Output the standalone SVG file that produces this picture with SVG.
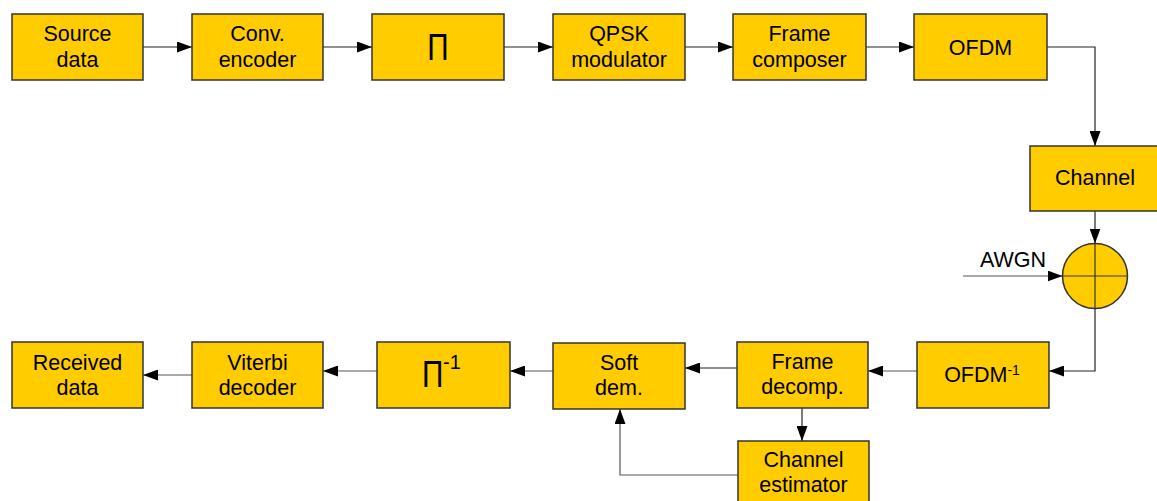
<svg xmlns="http://www.w3.org/2000/svg" width="1157" height="501" viewBox="0 0 1157 501">
<style>
.box{fill:#FFCC00;stroke:#333;stroke-width:1.5}
.t{font-family:"Liberation Sans",Arial,sans-serif;font-size:21.5px;fill:#000;text-anchor:middle}
.pi{font-family:"Liberation Sans",Arial,sans-serif;font-size:37px;fill:#000}
.c{fill:none;stroke:#222;stroke-width:1.2}
.g{fill:none;stroke:#555;stroke-width:1.2}
</style>
<defs>
<marker id="ah" markerUnits="userSpaceOnUse" markerWidth="15" markerHeight="11" refX="15" refY="5.5" orient="auto">
<path d="M0,0 L15,5.5 L0,11 z" fill="#000"/>
</marker>
</defs>
<g id="connectors">
<path class="c" d="M143,47 H192" marker-end="url(#ah)"/>
<path class="c" d="M323,47 H372" marker-end="url(#ah)"/>
<path class="c" d="M504,47 H553" marker-end="url(#ah)"/>
<path class="c" d="M685,47 H733" marker-end="url(#ah)"/>
<path class="c" d="M866,47 H914" marker-end="url(#ah)"/>
<path class="c" d="M1047,47 H1095 V146" marker-end="url(#ah)"/>
<path class="c" d="M1095,211 V243.5" marker-end="url(#ah)"/>
<path class="g" d="M963,276 H1062.5" marker-end="url(#ah)"/>
<path class="c" d="M1095,308.5 V371 H1049" marker-end="url(#ah)"/>
<path class="g" d="M917,371 H868" marker-end="url(#ah)"/>
<path class="c" d="M737,368 H685" marker-end="url(#ah)"/>
<path class="g" d="M553,371 H510" marker-end="url(#ah)"/>
<path class="g" d="M377,371 H323" marker-end="url(#ah)"/>
<path class="g" d="M192,375 H143" marker-end="url(#ah)"/>
<path class="c" d="M802,408 V441" marker-end="url(#ah)"/>
<path class="g" d="M738,475 H620 V409" marker-end="url(#ah)"/>
</g>
<g id="source">
<rect class="box" x="12" y="14" width="131" height="66"/>
<text class="t" x="77.5" y="41">Source</text>
<text class="t" x="77.5" y="66.5">data</text>
</g>
<g id="encoder">
<rect class="box" x="192" y="14" width="131" height="66"/>
<text class="t" x="257.5" y="41">Conv.</text>
<text class="t" x="257.5" y="66.5">encoder</text>
</g>
<g id="interleaver">
<rect class="box" x="372" y="14" width="132" height="66"/>
<text class="pi" transform="translate(438,60) scale(0.8,1)" text-anchor="middle">Π</text>
</g>
<g id="qpsk">
<rect class="box" x="553" y="14" width="132" height="66"/>
<text class="t" x="619" y="41">QPSK</text>
<text class="t" x="619" y="66.5">modulator</text>
</g>
<g id="framecomposer">
<rect class="box" x="733" y="14" width="133" height="66"/>
<text class="t" x="799.5" y="41">Frame</text>
<text class="t" x="799.5" y="66.5">composer</text>
</g>
<g id="ofdm">
<rect class="box" x="914" y="14" width="133" height="66"/>
<text class="t" x="980.5" y="54.5">OFDM</text>
</g>
<g id="channel">
<rect class="box" x="1030" y="146" width="131" height="65"/>
<text class="t" x="1095" y="185">Channel</text>
</g>
<g id="adder">
<circle cx="1095" cy="276" r="32.5" fill="#FFCC00" stroke="#333" stroke-width="1.5"/>
<path d="M1062.5,276 H1127.5 M1095,243.5 V308.5" stroke="#333" stroke-width="1.2" fill="none"/>
</g>
<g id="awgn">
<text class="t" x="1013" y="267">AWGN</text>
</g>
<g id="ofdminv">
<rect class="box" x="917" y="342" width="132" height="66"/>
<text class="t" x="982" y="382">OFDM<tspan font-size="14" dy="-7">-1</tspan></text>
</g>
<g id="framedecomp">
<rect class="box" x="737" y="342" width="131" height="66"/>
<text class="t" x="802.5" y="368.5">Frame</text>
<text class="t" x="802.5" y="393.5">decomp.</text>
</g>
<g id="softdem">
<rect class="box" x="553" y="343" width="132" height="66"/>
<text class="t" x="619" y="370">Soft</text>
<text class="t" x="619" y="395">dem.</text>
</g>
<g id="deinterleaver">
<rect class="box" x="377" y="342" width="133" height="66"/>
<text class="pi" transform="translate(422,387) scale(0.8,1)">Π</text>
<text x="443" y="369" font-family="Liberation Sans, Arial, sans-serif" font-size="20">-1</text>
</g>
<g id="viterbi">
<rect class="box" x="192" y="342" width="131" height="66"/>
<text class="t" x="257.5" y="369.5">Viterbi</text>
<text class="t" x="257.5" y="394.5">decoder</text>
</g>
<g id="received">
<rect class="box" x="12" y="342" width="131" height="66"/>
<text class="t" x="77.5" y="369.5">Received</text>
<text class="t" x="77.5" y="394.5">data</text>
</g>
<g id="estimator">
<rect class="box" x="738" y="441" width="131" height="66"/>
<text class="t" x="803.5" y="467">Channel</text>
<text class="t" x="803.5" y="492">estimator</text>
</g>
</svg>
